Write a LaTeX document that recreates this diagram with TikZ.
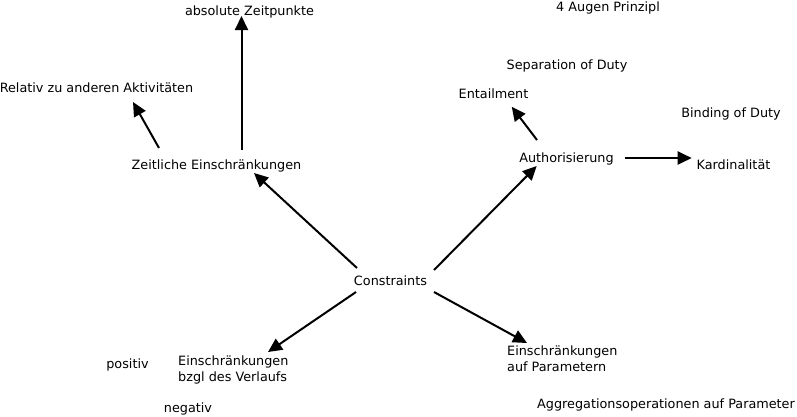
\documentclass[tikz,border=0pt]{standalone}
\usepackage{fontspec}
\setmainfont{DejaVu Sans}
\usetikzlibrary{arrows.meta,calc}
\begin{document}
\begin{tikzpicture}[x=1pt,y=-1pt,
  lbl/.style={inner sep=0pt,anchor=base,font=\fontsize{12.8}{16}\selectfont},
  lbl2/.style={inner sep=0pt,anchor=west,align=left,font=\fontsize{12.8}{16}\selectfont},
  arr/.style={line width=2pt,-{Triangle[length=14pt,width=13pt]}}]
\useasboundingbox[fill=white] (0,0) rectangle (797,416);
\node[lbl] (abs)  at (249.5,15)   {absolute Zeitpunkte};
\node[lbl] (aug)  at (608,11.3)   {4 Augen Prinzipl};
\node[lbl] (sep)  at (567,69.7)   {Separation of Duty};
\node[lbl] (ent)  at (493.5,98)   {Entailment};
\node[lbl] (bind) at (731,117)    {Binding of Duty};
\node[lbl] (rel)  at (96.5,92)    {Relativ zu anderen Aktivitäten};
\node[lbl] (zeit) at (216.5,169.7){Zeitliche Einschränkungen};
\node[lbl] (auth) at (566.5,162)  {Authorisierung};
\node[lbl] (kard) at (733.5,169)  {Kardinalität};
\node[lbl] (c)    at (390.5,285)  {Constraints};
\node[lbl] (pos)  at (127.5,368)  {positiv};
\node[lbl] (neg)  at (188,412)    {negativ};
\node[lbl] (agg)  at (666,408)    {Aggregationsoperationen auf Parameter};
\node[lbl2] (verl)  at (178,369.5) {Einschränkungen\\bzgl des Verlaufs};
\node[lbl2] (param) at (507,359)   {Einschränkungen\\auf Parametern};
\draw[arr] ($(zeit.base)+(25,-20)$) -- ($(abs.base)+(-8,1)$);
\draw[arr] ($(zeit.base)+(-57.5,-21.7)$) -- ($(rel.base)+(36.5,10)$);
\draw[arr] ($(c.base)+(-33.5,-17)$) -- ($(zeit.base)+(37.5,3.3)$);
\draw[arr] ($(c.base)+(43.5,-15)$) -- ($(auth.base)+(-29.8,4)$);
\draw[arr] ($(auth.base)+(-29.5,-22)$) -- ($(ent.base)+(18.2,8.7)$);
\draw[arr] ($(auth.base)+(58.5,-4)$) -- ($(kard.base)+(-41.8,-11)$);
\draw[arr] ($(c.base)+(-34.5,7)$) -- ($(verl.west)+(90,-17.5)$);
\draw[arr] ($(c.base)+(43.5,7)$) -- ($(param.west)+(20,-16)$);
\end{tikzpicture}
\end{document}
